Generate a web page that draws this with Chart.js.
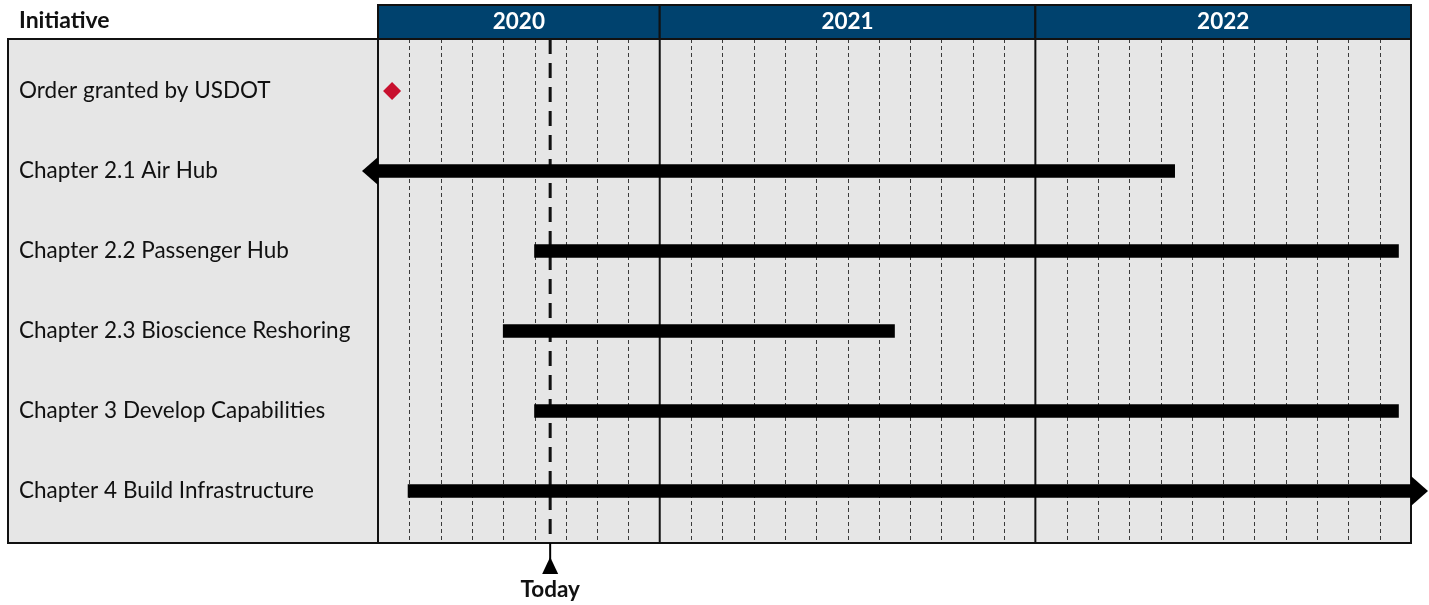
<!DOCTYPE html>
<html><head><meta charset="utf-8">
<script src="https://cdn.jsdelivr.net/npm/chart.js@4/dist/chart.umd.min.js"></script>
<style>html,body{margin:0;padding:0;background:#fff;}#wrap{width:1429px;height:605px;}</style>
</head><body><div id="wrap"><canvas id="c" width="1429" height="605"></canvas></div>
<script>
// Time unit: months since 1 April 2020
const initiatives = ['Order granted by USDOT','Chapter 2.1 Air Hub','Chapter 2.2 Passenger Hub','Chapter 2.3 Bioscience Reshoring','Chapter 3 Develop Capabilities','Chapter 4 Build Infrastructure'];
const barStart = [null, -1, 5.0, 4.0, 5.0, 0.96];
const barEnd   = [null, 25.45, 32.6, 16.5, 32.6, 34];
const arrowLeft  = [false, true, false, false, false, false];
const arrowRight = [false, false, false, false, false, true];
const milestoneValue = [0.45, null, null, null, null, null];
const yearLabels = ['2020', '2021', '2022'];
const yearStart = [0, 9, 21];
const yearEnd = [9, 21, 33];
const monthLines = [1,2,3,4,5,6,7,8,10,11,12,13,14,15,16,17,18,19,20,22,23,24,25,26,27,28,29,30,31,32];
const axisMin = 0, axisMax = 33;
const todayValue = 5.5;
const todayLabel = 'Today';
const headerLabel = 'Initiative';

const FONT = 'Lato, "Open Sans", sans-serif';
const NAVY = '#00426E';
const PANEL = '#E6E6E6';

const ganttPlugin = {
  id: 'gantt',
  beforeDraw(chart) {
    const ctx = chart.ctx, x = chart.scales.x;
    const top = 39, bottom = 543, L = 8;
    const left = x.getPixelForValue(axisMin), right = x.getPixelForValue(axisMax);
    ctx.save();
    ctx.fillStyle = '#fff'; ctx.fillRect(0,0,chart.width,chart.height);
    ctx.fillStyle = PANEL; ctx.fillRect(L, top, right - L, bottom - top);
    // month grid
    ctx.strokeStyle = '#3a3a3a'; ctx.lineWidth = 1; ctx.setLineDash([4,3]);
    monthLines.forEach(m => {
      const px = Math.round(x.getPixelForValue(m)) + 0.5;
      ctx.beginPath(); ctx.moveTo(px, top); ctx.lineTo(px, bottom); ctx.stroke();
    });
    ctx.setLineDash([]);
    // year boundaries & header
    ctx.font = 'bold 22.5px ' + FONT; ctx.textAlign = 'center'; ctx.textBaseline = 'middle';
    yearLabels.forEach((lab, i) => {
      const a = x.getPixelForValue(yearStart[i]), b = x.getPixelForValue(yearEnd[i]);
      ctx.fillStyle = NAVY; ctx.fillRect(a, 5, b - a, top - 5);
      ctx.strokeStyle = '#111'; ctx.lineWidth = 2; ctx.strokeRect(a, 5, b - a, top - 5);
      ctx.fillStyle = '#fff'; ctx.fillText(lab, (a + b) / 2, 22);
      ctx.beginPath(); ctx.moveTo(a, top); ctx.lineTo(a, bottom); ctx.stroke();
    });
    ctx.fillStyle = '#111'; ctx.textAlign = 'left';
    ctx.font = 'bold 23px ' + FONT;
    ctx.fillText(headerLabel, 19, 21);
    // borders
    ctx.strokeStyle = '#111'; ctx.lineWidth = 2;
    ctx.strokeRect(L, top, right - L, bottom - top);
    ctx.beginPath(); ctx.moveTo(left, top); ctx.lineTo(left, bottom); ctx.stroke();
    // today dashed line
    const tx = x.getPixelForValue(todayValue);
    ctx.lineWidth = 3; ctx.setLineDash([15, 9]);
    ctx.beginPath(); ctx.moveTo(tx, top); ctx.lineTo(tx, bottom); ctx.stroke();
    ctx.setLineDash([]);
    ctx.restore();
  },
  afterDatasetsDraw(chart) {
    const ctx = chart.ctx, x = chart.scales.x, y = chart.scales.y;
    ctx.save();
    ctx.fillStyle = '#000';
    initiatives.forEach((lab, i) => {
      const py = y.getPixelForValue(i);
      if (arrowLeft[i]) {
        const b = x.getPixelForValue(axisMin);
        ctx.beginPath(); ctx.moveTo(b, py - 14); ctx.lineTo(b - 16, py); ctx.lineTo(b, py + 14); ctx.closePath(); ctx.fill();
      }
      if (arrowRight[i]) {
        const b = x.getPixelForValue(axisMax);
        ctx.beginPath(); ctx.moveTo(b, py - 15); ctx.lineTo(b + 17, py); ctx.lineTo(b, py + 15); ctx.closePath(); ctx.fill();
      }
    });
    // today marker below axis
    const tx = x.getPixelForValue(todayValue);
    ctx.strokeStyle = '#000'; ctx.lineWidth = 2;
    ctx.beginPath(); ctx.moveTo(tx, 543); ctx.lineTo(tx, 560); ctx.stroke();
    ctx.beginPath(); ctx.moveTo(tx, 557); ctx.lineTo(tx - 8, 574); ctx.lineTo(tx + 8, 574); ctx.closePath(); ctx.fill();
    ctx.font = 'bold 22.5px ' + FONT; ctx.textAlign = 'center'; ctx.textBaseline = 'middle';
    ctx.fillStyle = '#111';
    ctx.fillText(todayLabel, tx, 590);
    ctx.restore();
  }
};

new Chart(document.getElementById('c'), {
  type: 'bar',
  data: {
    labels: initiatives,
    datasets: [
      {
        type: 'bar',
        data: initiatives.map((_, i) => barStart[i] === null ? null : [barStart[i], barEnd[i]]),
        backgroundColor: '#000',
        borderWidth: 0,
        barThickness: 13,
        clip: 0
      },
      {
        type: 'scatter',
        data: initiatives.map((lab, i) => milestoneValue[i] === null ? null : {x: milestoneValue[i], y: lab}).filter(d => d),
        pointStyle: 'rectRot',
        pointRadius: 9,
        backgroundColor: '#C8102E',
        borderColor: '#C8102E',
        borderWidth: 0
      }
    ]
  },
  options: {
    indexAxis: 'y',
    responsive: false,
    animation: false,
    devicePixelRatio: 1,
    layout: { padding: { left: 19, right: 18, top: 51, bottom: 74 } },
    plugins: { legend: { display: false }, tooltip: { enabled: false } },
    scales: {
      x: { type: 'linear', min: axisMin, max: axisMax, display: false },
      y: {
        type: 'category',
        offset: true,
        grid: { display: false },
        border: { display: false },
        ticks: { crossAlign: 'far', color: '#111', font: { family: FONT, size: 22.5 }, padding: 0 },
        afterFit(s) { s.width = 359; }
      }
    }
  },
  plugins: [ganttPlugin]
});
</script>
</body></html>
